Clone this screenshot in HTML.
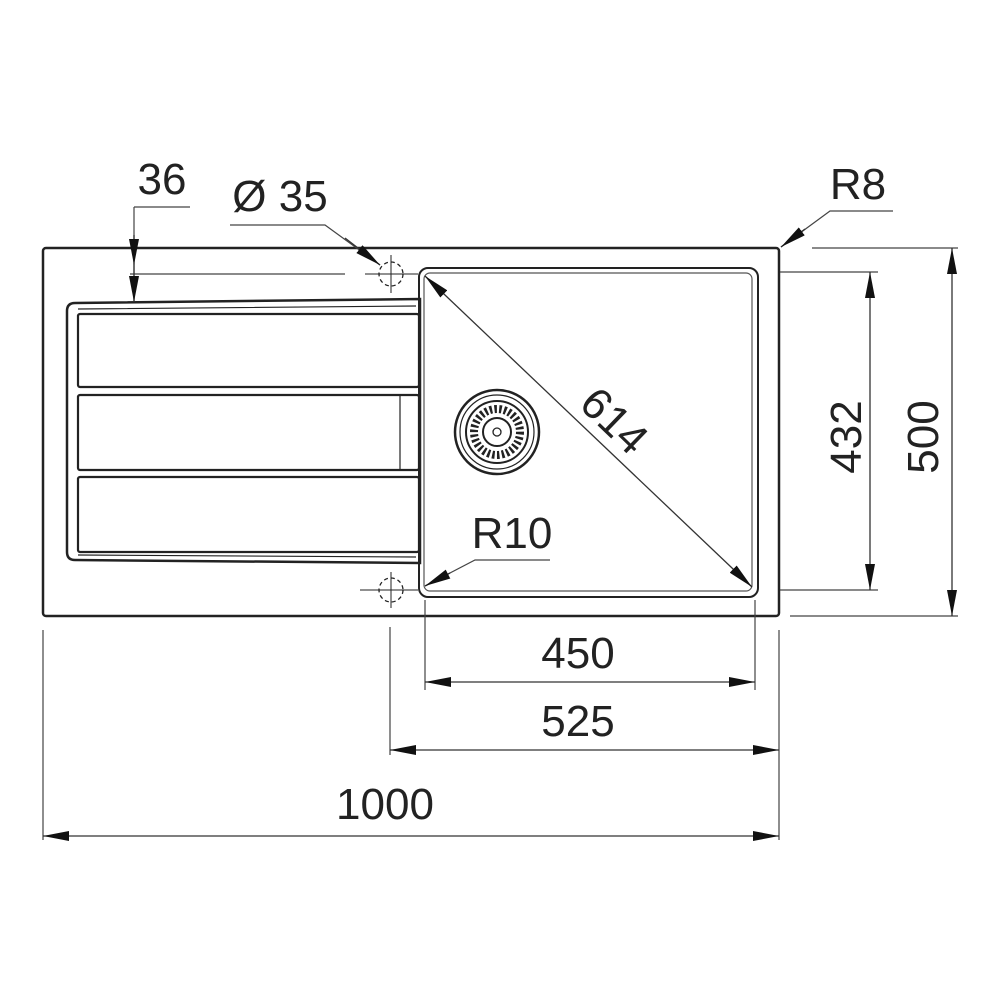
<!DOCTYPE html>
<html><head><meta charset="utf-8"><style>
html,body{margin:0;padding:0;background:#fff;}
svg{display:block;}
text{font-family:"Liberation Sans",Arial,sans-serif;font-size:44px;fill:#222;text-anchor:middle;}
</style></head><body>
<svg width="1000" height="1000" viewBox="0 0 1000 1000" xmlns="http://www.w3.org/2000/svg">
<defs>
<marker id="a" viewBox="0 0 26 10" refX="26" refY="5" markerWidth="26" markerHeight="10" markerUnits="userSpaceOnUse" orient="auto-start-reverse">
<path d="M0,0 L26,5 L0,10 z" fill="#111"/>
</marker>
</defs>
<g fill="none" stroke="#222">
<rect x="43" y="248" width="736" height="368" rx="3" stroke-width="2.5"/>
<rect x="419" y="268" width="339" height="329" rx="9" stroke-width="2"/>
<rect x="424" y="273" width="328" height="318" rx="6" stroke-width="1.2" stroke="#555"/>
<path d="M75,303 L420,299 L420,563 L75,560 Q67,560 67,552 L67,311 Q67,303 75,303 Z" stroke-width="2.5"/>
<path d="M78,309 L416,306 M78,555 L416,557" stroke-width="1.2"/>
<rect x="78" y="314" width="341" height="73" rx="2" stroke-width="2.2"/>
<rect x="78" y="395" width="341" height="75" rx="2" stroke-width="2.2"/>
<line x1="400" y1="395" x2="400" y2="470" stroke-width="1.2"/>
<rect x="78" y="477" width="341" height="75" rx="2" stroke-width="2.2"/>
<circle cx="391" cy="274" r="12" stroke-dasharray="4,3" stroke-width="1.3"/>
<circle cx="391" cy="590" r="12" stroke-dasharray="4,3" stroke-width="1.3"/>
<path d="M365,274 H418 M391,255 V293 M360,590 H418 M391,572 V608" stroke-width="1"/>
<g transform="translate(497,432)">
<circle r="42" stroke-width="2.5"/>
<circle r="37" stroke-width="1.2"/>
<circle r="31" stroke-width="2"/>
<circle r="14" stroke-width="2"/>
<circle r="4" stroke-width="1.3"/>
<circle r="23" stroke-width="8" stroke-dasharray="2.5,2.3"/>
</g>
<g stroke-width="1.2" stroke="#444">
<path d="M130,274 H345"/>
<path d="M134,207 H190 M134,207 V302"/>
<path d="M230,225 H325 L380,265"/>
<path d="M893,211 H830 L781,247"/>
<path d="M550,560 H475 L425,586"/>
<path d="M812,248 H958 M790,616 H958 M780,272 H878 M780,590 H878"/>
<path d="M43,630 V840 M779,630 V840 M390,627 V755 M425,600 V690 M755,600 V690"/>
</g>
<g stroke-width="1.3" stroke="#333">
<line x1="134" y1="265" x2="134" y2="235" marker-start="url(#a)"/>
<line x1="134" y1="265" x2="134" y2="302" marker-end="url(#a)"/>
<line x1="345" y1="238" x2="380" y2="265" marker-end="url(#a)"/>
<line x1="805" y1="229" x2="781" y2="247" marker-end="url(#a)"/>
<line x1="450" y1="573" x2="425" y2="586" marker-end="url(#a)"/>
<line x1="425" y1="276" x2="752" y2="587" marker-start="url(#a)" marker-end="url(#a)"/>
<line x1="870" y1="272" x2="870" y2="590" marker-start="url(#a)" marker-end="url(#a)"/>
<line x1="952" y1="248" x2="952" y2="616" marker-start="url(#a)" marker-end="url(#a)"/>
<line x1="425" y1="682" x2="755" y2="682" marker-start="url(#a)" marker-end="url(#a)"/>
<line x1="390" y1="750" x2="779" y2="750" marker-start="url(#a)" marker-end="url(#a)"/>
<line x1="43" y1="836" x2="779" y2="836" marker-start="url(#a)" marker-end="url(#a)"/>
</g>
</g>
<text x="162" y="194">36</text>
<text x="280" y="211">Ø 35</text>
<text x="858" y="199">R8</text>
<text x="512" y="548">R10</text>
<text x="578" y="668">450</text>
<text x="578" y="736">525</text>
<text x="385" y="819">1000</text>
<text transform="translate(615,420) rotate(44)" y="16">614</text>
<text transform="translate(845,437) rotate(-90)" y="16">432</text>
<text transform="translate(922,437) rotate(-90)" y="16">500</text>
</svg>
</body></html>
